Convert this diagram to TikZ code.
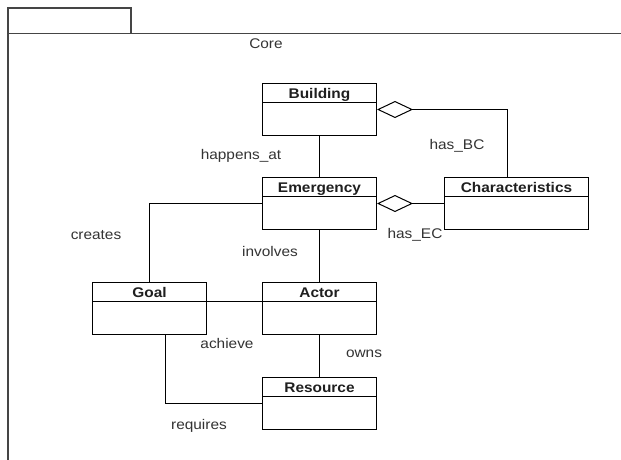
\documentclass[tikz,border=0pt]{standalone}
\usepackage{fontspec}
\setmainfont{Liberation Sans}[FakeStretch=1.1]
\usetikzlibrary{arrows.meta,calc}
\definecolor{lblgray}{HTML}{333333}
\definecolor{framegray}{HTML}{454545}
\tikzset{
  cls/.style={draw=black, line width=1pt, rectangle, minimum width=114pt, minimum height=52pt, inner sep=0pt, fill=white},
  clsname/.style={anchor=base, font=\fontsize{14}{16}\selectfont\bfseries, text=black!88, inner sep=0pt},
  lbl/.style={font=\fontsize{14}{16}\selectfont, text=lblgray, inner sep=0pt},
  conn/.style={draw=black, line width=1pt},
  agg/.style={conn, -{Diamond[open, length=36pt, width=17pt, line width=1pt]}},
  frame/.style={draw=framegray, line width=1.8pt}
}
\begin{document}
\begin{tikzpicture}[x=1pt, y=-1pt]
\useasboundingbox (0,0) rectangle (621,460);
\fill[white] (0,0) rectangle (621,460);
% package frame
\coordinate (tabA) at (8,8);
\coordinate (tabB) at (131,33.5);
\coordinate (frR) at (621,33.5);
\coordinate (frB) at (8,461);
\draw[frame] (tabA |- tabB) -- (tabA) -- (tabA -| tabB) -- (tabB);
\draw[frame] (frB) -- (tabA |- tabB) -- (frR);
\node[lbl] (core) at (266,44) {Core};
% classes
\node[cls] (bld) at (319.5,109.5) {};
\node[cls] (emg) at (319.5,203.5) {};
\node[cls, minimum width=144pt] (chr) at (516.5,203.5) {};
\node[cls] (goal) at (149.5,308.5) {};
\node[cls] (act) at (319.5,308.5) {};
\node[cls] (res) at (319.5,403.5) {};
\foreach \c/\t in {bld/Building, emg/Emergency, chr/Characteristics, goal/Goal, act/Actor, res/Resource}{
  \draw[line width=1pt] ($(\c.north west)+(0,19)$) -- ($(\c.north east)+(0,19)$);
  \node[clsname] (\c T) at ($(\c.north)+(0,15)$) {\t};
}
% connectors
\draw[agg] ($(chr.north west)+(63,0)$) |- (bld.east);
\draw[agg] (chr.west) -- (emg.east);
\draw[conn] (bld) -- (emg);
\draw[conn] (emg.west) -| (goal.north);
\draw[conn] (emg) -- (act);
\draw[conn] ($(goal.north east)+(0,19)$) -- ($(act.north west)+(0,19)$);
\draw[conn] (act) -- (res);
\draw[conn] ($(goal.south west)+(73,0)$) |- ($(res.north west)+(0,26)$);
% labels
\node[lbl] (lhap) at (241,156) {happens\_at};
\node[lbl] (lhbc) at (457,146) {has\_BC};
\node[lbl] (lhec) at (415,235) {has\_EC};
\node[lbl] (lcre) at (96,235) {creates};
\node[lbl] (linv) at (270,251) {involves};
\node[lbl] (lach) at (227,343) {achieve};
\node[lbl] (lown) at (364,354) {owns};
\node[lbl] (lreq) at (199,426) {requires};
\end{tikzpicture}
\end{document}
